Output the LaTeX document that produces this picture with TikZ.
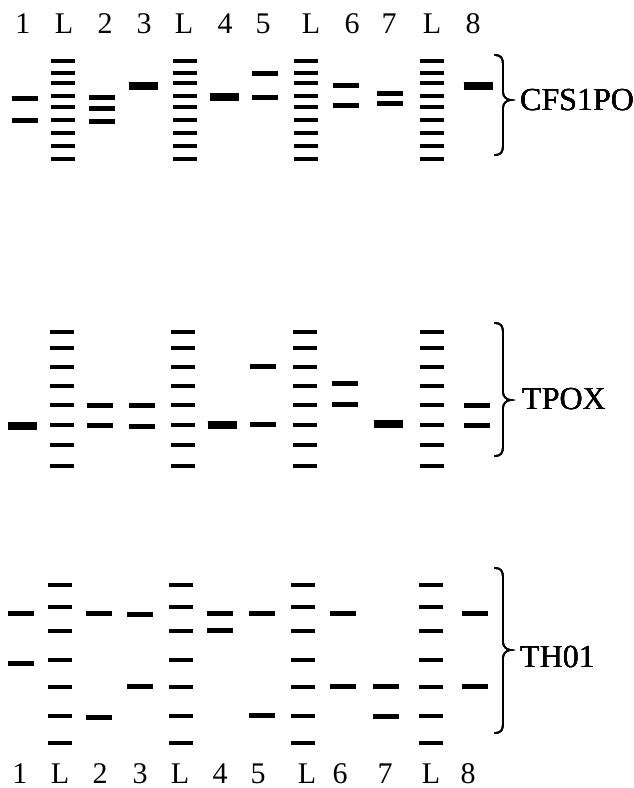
\documentclass[tikz,border=0pt]{standalone}
\usepackage{fontspec}
\setmainfont{Liberation Serif}

% one lane of size-ladder bands, thin and evenly spaced
\newcommand\ladderlane[2]{\foreach \yy in {#2}{\draw[ladderband] (#1,\yy) +(-12,0) -- +(12,0);}}
% ordinary sample bands
\newcommand\bands[2]{\foreach \yy in {#2}{\draw[sampleband] (#1,\yy) +(-13,0) -- +(13,0);}}
% a single strong (homozygous) band
\newcommand\heavy[2]{\draw[heavyband] (#1,#2) +(-14.5,0) -- +(14.5,0);}
% right curly brace: x of the stem, top, tip, bottom
\newcommand\locusbrace[4]{%
  \draw[bracestroke] ({#1-8},#2) .. controls ({#1-2},#2) and (#1,{#2+3}) .. (#1,{#2+10})
    -- (#1,{#3-8}) .. controls (#1,{#3-3}) and ({#1+4},#3) .. ({#1+8},#3)
    .. controls ({#1+4},#3) and (#1,{#3+3}) .. (#1,{#3+8})
    -- (#1,{#4-10}) .. controls (#1,{#4-3}) and ({#1-2},#4) .. ({#1-8},#4);}

\begin{document}
\begin{tikzpicture}[x=1pt,y=-1pt,
  ladderband/.style={line width=3.2pt},
  sampleband/.style={line width=5pt},
  heavyband/.style={line width=7.5pt},
  bracestroke/.style={line width=1.6pt,line cap=round},
  lanelabel/.style={anchor=base,inner sep=0pt,font=\fontsize{30}{30}\selectfont},
  locuslabel/.style={anchor=base west,inner sep=0pt,font=\fontsize{32}{32}\selectfont}]

\useasboundingbox (0,0) rectangle (633,788);

% lane labels, top and bottom
\foreach \lbl/\xx/\nm in {1/23/ta,L/64/tb,2/105/tc,3/144/td,L/184/te,4/225/tf,
                          5/263/tg,L/311/th,6/352/ti,7/389/tj,L/432/tk,8/473/tl}
  \node[lanelabel] (\nm) at (\xx,33) {\lbl};
\foreach \lbl/\xx/\nm in {1/20/ba,L/60/bb,2/100/bc,3/140/bd,L/180/be,4/220/bf,
                          5/258/bg,L/307/bh,6/340/bi,7/385/bj,L/431/bk,8/468/bl}
  \node[lanelabel] (\nm) at (\xx,783) {\lbl};

% ---- CFS1PO ----
\foreach \xx in {63,185,306,432}
  \ladderlane{\xx}{61,73,83,96,107,120,133,146,159}
\bands{24.5}{98,120}
\bands{102}{97,108,121}
\heavy{143}{86}
\heavy{224}{97}
\bands{265}{73,97}
\bands{346}{85,105}
\bands{390}{93,103}
\heavy{478}{86}
\locusbrace{503}{55}{100}{155}
\node[locuslabel] (cfs) at (520,110) {CFS1PO};

% ---- TPOX ----
\foreach \xx in {62,183,305,432}
  \ladderlane{\xx}{332,348,367,386,405,425,445,466}
\heavy{22.5}{426}
\bands{100}{405,425}
\bands{142}{405,426}
\heavy{222}{425}
\bands{263}{366,424}
\bands{345}{383,404}
\heavy{388}{424}
\bands{477}{405,425}
\locusbrace{503}{323}{400}{456}
\node[locuslabel] (tpox) at (522,409) {TPOX};

% ---- TH01 ----
\foreach \xx in {60,181,303,431}
  \ladderlane{\xx}{585,607,631,660,687,716,743}
\bands{21}{613,663}
\bands{99}{613,717}
\bands{140}{614,686}
\bands{220}{613,630}
\bands{262}{613,715}
\bands{343}{613,686}
\bands{386}{686,716}
\bands{475}{613,686}
\locusbrace{503}{568}{650}{733}
\node[locuslabel] (th) at (520,667) {TH01};

\end{tikzpicture}
\end{document}
